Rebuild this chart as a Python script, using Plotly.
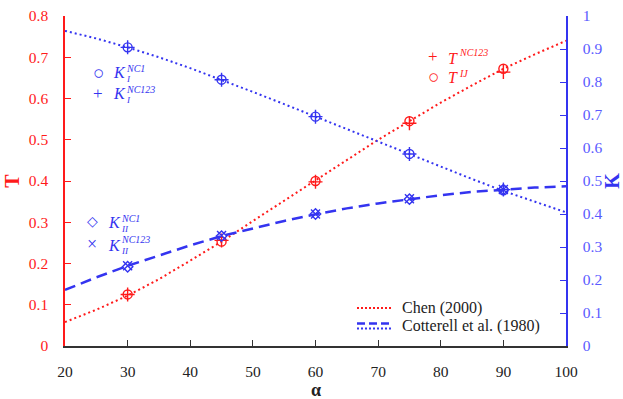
import plotly.graph_objects as go

# ---------------- data ----------------
alpha_curve = [20, 25, 30, 35, 40, 45, 50, 55, 60, 65, 70, 75, 80, 85, 90, 95, 100]
T_chen = [0.058, 0.088, 0.122, 0.162, 0.207, 0.253, 0.303, 0.352, 0.402, 0.452,
          0.500, 0.545, 0.590, 0.632, 0.672, 0.707, 0.740]
KI_cott = [0.955, 0.932, 0.905, 0.875, 0.842, 0.807, 0.770, 0.733, 0.695, 0.657,
           0.619, 0.581, 0.543, 0.506, 0.470, 0.437, 0.405]
KII_cott = [0.170, 0.208, 0.243, 0.275, 0.305, 0.333, 0.357, 0.379, 0.399, 0.417,
            0.432, 0.445, 0.457, 0.467, 0.474, 0.480, 0.484]

alpha_pts = [30, 45, 60, 75, 90]
T_IJ = [0.125, 0.253, 0.400, 0.545, 0.672]
T_NC123 = [0.125, 0.256, 0.398, 0.540, 0.664]
KI_NC1 = [0.905, 0.807, 0.695, 0.582, 0.472]
KI_NC123 = [0.905, 0.807, 0.695, 0.582, 0.474]
KII_NC1 = [0.240, 0.333, 0.400, 0.445, 0.474]
KII_NC123 = [0.243, 0.335, 0.400, 0.446, 0.474]

RED = "#ff1a1a"
BLUE = "#3434f0"
BLUE_T = "#5a5aff"
SERIF = "Liberation Serif, DejaVu Serif, serif"

W, H = 623, 399
L, R, T, B = 65, 57, 16, 53
PW, PH = W - L - R, H - T - B

fig = go.Figure()

fig.add_trace(go.Scatter(x=alpha_curve, y=T_chen, mode="lines",
                         line=dict(color=RED, width=2, dash="2px,3px"), yaxis="y"))
fig.add_trace(go.Scatter(x=alpha_curve, y=KI_cott, mode="lines",
                         line=dict(color=BLUE, width=2, dash="2px,3px"), yaxis="y2"))
fig.add_trace(go.Scatter(x=alpha_curve, y=KII_cott, mode="lines",
                         line=dict(color=BLUE, width=2.5, dash="11px,6px"), yaxis="y2"))

def mk(x, y, sym, color, yaxis, size=9):
    fig.add_trace(go.Scatter(x=x, y=y, mode="markers", yaxis=yaxis,
                             marker=dict(symbol=sym, size=size, color=color,
                                         line=dict(color=color, width=1.4))))

mk(alpha_pts, T_IJ, "circle-open", RED, "y")
mk(alpha_pts, T_NC123, "cross-thin-open", RED, "y", 10)
mk(alpha_pts, KI_NC1, "circle-open", BLUE, "y2")
mk(alpha_pts, KI_NC123, "cross-thin-open", BLUE, "y2", 10)
mk(alpha_pts, KII_NC1, "diamond-open", BLUE, "y2", 8)
mk(alpha_pts, KII_NC123, "x-thin-open", BLUE, "y2", 9)

def px(x):
    return (x - L) / PW

def py(y):
    return (H - B - y) / PH

ann = []
shapes = []

def text(x, y, s, color, size, italic=False, bold=False, xanchor="left"):
    if italic:
        s = "<i>" + s + "</i>"
    if bold:
        s = "<b>" + s + "</b>"
    ann.append(dict(x=px(x), y=py(y), xref="paper", yref="paper", text=s,
                    showarrow=False, xanchor=xanchor, yanchor="middle",
                    font=dict(family=SERIF, size=size, color=color)))

# inline marker legends
text(98, 72, "○", BLUE, 19, xanchor="center")
text(111, 72, "K", BLUE, 16, italic=True)
text(124, 68.5, "NC1", BLUE, 10, italic=True)
text(124, 78.5, "I", BLUE, 9, italic=True)

text(98, 94, "+", BLUE, 17, xanchor="center")
text(111, 94, "K", BLUE, 16, italic=True)
text(124, 89.5, "NC123", BLUE, 10, italic=True)
text(124, 99.5, "I", BLUE, 9, italic=True)

text(92, 221, "◇", BLUE, 14, xanchor="center")
text(106, 223, "K", BLUE, 16, italic=True)
text(119, 218.5, "NC1", BLUE, 10, italic=True)
text(119, 228.5, "II", BLUE, 9, italic=True)

text(92, 244, "×", BLUE, 18, xanchor="center")
text(106, 245, "K", BLUE, 16, italic=True)
text(119, 240, "NC123", BLUE, 10, italic=True)
text(119, 250.5, "II", BLUE, 9, italic=True)

text(433, 56.5, "+", RED, 17, xanchor="center")
text(446, 58, "T", RED, 16, italic=True)
text(457, 53, "NC123", RED, 10, italic=True)

text(433, 76.5, "○", RED, 19, xanchor="center")
text(446, 77.5, "T", RED, 16, italic=True)
text(457, 73, "IJ", RED, 10, italic=True)

# line legend
shapes.append(dict(type="line", xref="paper", yref="paper", x0=px(357), x1=px(392),
                   y0=py(308), y1=py(308), line=dict(color=RED, width=2, dash="2px,2px")))
shapes.append(dict(type="line", xref="paper", yref="paper", x0=px(357), x1=px(392),
                   y0=py(323.5), y1=py(323.5), line=dict(color=BLUE, width=2.5, dash="8px,4px")))
shapes.append(dict(type="line", xref="paper", yref="paper", x0=px(357), x1=px(392),
                   y0=py(328.5), y1=py(328.5), line=dict(color=BLUE, width=2, dash="2px,2px")))
text(400, 308, "Chen (2000)", "#222222", 16)
text(400, 326, "Cotterell et al. (1980)", "#222222", 16)

# x-axis title
text(316, 390, "α", "#222222", 18, bold=True, xanchor="center")

fig.update_layout(
    width=W, height=H,
    margin=dict(l=L, r=R, t=T, b=B, pad=0),
    plot_bgcolor="white", paper_bgcolor="white",
    showlegend=False,
    font=dict(family=SERIF, size=14),
    xaxis=dict(range=[20, 100], dtick=10, showgrid=False, zeroline=False,
               automargin=False,
               showline=True, linecolor="#333333", linewidth=1.5,
               ticks="inside", ticklen=6, tickcolor="#333333",
               tickfont=dict(family=SERIF, size=15.5, color="#222222"),
               ticklabelstandoff=11),
    yaxis=dict(range=[0, 0.8], dtick=0.1, showgrid=False, zeroline=False,
               automargin=False,
               showline=True, linecolor=RED, linewidth=1.5,
               ticks="inside", ticklen=6, tickcolor=RED,
               tickfont=dict(family=SERIF, size=15.5, color=RED),
               ticklabelstandoff=12,
               title=dict(text="<b>T</b>", font=dict(family=SERIF, size=20, color=RED),
                          standoff=4)),
    yaxis2=dict(range=[0, 1], dtick=0.1, overlaying="y", side="right",
                automargin=False,
                showgrid=False, zeroline=False,
                showline=True, linecolor=BLUE, linewidth=1.5,
                ticks="inside", ticklen=6, tickcolor=BLUE,
                tickfont=dict(family=SERIF, size=15.5, color=BLUE_T),
                ticklabelstandoff=12,
                title=dict(text="<b>K</b>", font=dict(family=SERIF, size=20, color=BLUE),
                           standoff=4)),
    annotations=ann,
    shapes=shapes,
)

fig.write_html("out.html")
